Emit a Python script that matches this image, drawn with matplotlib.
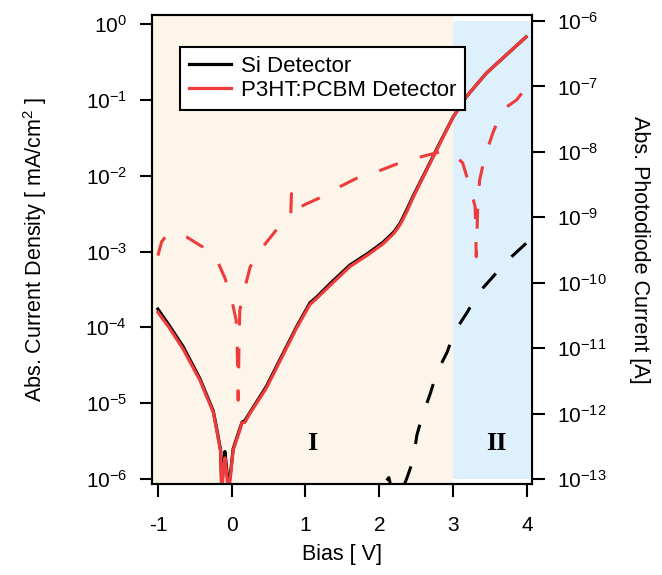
import math
import matplotlib
matplotlib.use("Agg")
from matplotlib import pyplot as plt
from matplotlib.ticker import FixedLocator, FuncFormatter, NullLocator
from matplotlib.lines import Line2D

plt.rcParams.update({"font.family": "Liberation Sans",
                     "mathtext.default": "regular",
                     "font.size": 15,
                     "text.color": "black",
                     "axes.linewidth": 1.5})

# Bias [V] and absolute current density [mA/cm^2] (left axis)
bias_dark = [-1.00, -0.85, -0.66, -0.43, -0.25, -0.205, -0.15, -0.135, -0.11, -0.092,
             -0.075, -0.045, -0.02, 0.02, 0.11, 0.14, 0.18, 0.25, 0.47, 0.70, 0.88,
             1.06, 1.15, 1.35, 1.60, 1.85, 2.05, 2.20, 2.28, 2.37, 2.46, 2.64, 2.82,
             3.00, 3.18, 3.45, 3.72, 3.99]
si_dark = [1.74e-4, 1.07e-4, 5.6e-5, 2.1e-5, 7.9e-6, 4.7e-6, 2.4e-6, 8e-7, 1.6e-6, 2.3e-6,
           1.6e-6, 8e-7, 1.1e-6, 2.5e-6, 4.6e-6, 5.6e-6, 5.9e-6, 7.6e-6, 1.66e-5, 4.6e-5, 1.02e-4,
           2.1e-4, 2.5e-4, 3.9e-4, 6.6e-4, 9.5e-4, 1.32e-3, 1.82e-3, 2.34e-3, 3.5e-3, 5.4e-3, 1.2e-2, 2.7e-2,
           5.9e-2, 0.11, 0.224, 0.39, 0.676]
p3ht_dark = [1.58e-4, 1.0e-4, 5.2e-5, 2.0e-5, 7.6e-6, 4.5e-6, 2.3e-6, 6.3e-7, 1.4e-6, 1.9e-6,
             1.4e-6, 6.3e-7, 1.0e-6, 2.4e-6, 4.4e-6, 5.5e-6, 5.6e-6, 7.4e-6, 1.58e-5, 4.4e-5, 9.8e-5,
             2.0e-4, 2.4e-4, 3.7e-4, 6.3e-4, 9.1e-4, 1.26e-3, 1.74e-3, 2.24e-3, 3.3e-3, 5.2e-3, 1.17e-2, 2.63e-2,
             5.9e-2, 0.11, 0.224, 0.39, 0.676]

# photodiode current [A] (right axis), dashed
bias_p3ht_pd = [-1.00, -0.95, -0.88, -0.75, -0.61, -0.39, -0.19, -0.09, 0.00, 0.06, 0.075,
                0.088, 0.10, 0.11, 0.18, 0.25, 0.41, 0.61, 0.80, 0.81, 0.845, 0.87, 1.00,
                1.20, 1.43, 1.74, 2.01, 2.28, 2.55, 2.82, 2.90, 3.02, 3.13, 3.23, 3.30,
                3.315, 3.335, 3.36, 3.43, 3.54, 3.67, 3.86, 4.00]
p3ht_pd = [2.6e-10, 4.2e-10, 5.4e-10, 5.5e-10, 5.0e-10, 3.5e-10, 2.1e-10, 1.17e-10, 5.5e-11, 2.7e-11, 1.0e-11,
           1.6e-12, 1.26e-11, 3.8e-11, 8.5e-11, 1.74e-10, 3.4e-10, 6.5e-10, 1.02e-9, 2.3e-9, 1.45e-9, 1.32e-9, 1.58e-9,
           2.0e-9, 2.8e-9, 4.2e-9, 5.2e-9, 6.8e-9, 8.3e-9, 1.0e-8, 1.02e-8, 8.9e-9, 6.8e-9, 2.9e-9, 1.45e-9,
           2.5e-10, 1.45e-9, 3.7e-9, 8.3e-9, 1.95e-8, 4.4e-8, 6.2e-8, 9.8e-8]

bias_si_pd = [2.10, 2.13, 2.20, 2.30, 2.37, 2.46, 2.51, 2.58, 2.69, 2.78, 2.92, 3.02,
              3.19, 3.34, 3.54, 3.74, 4.00]
si_pd = [9.5e-14, 1.05e-13, 5e-14, 6.3e-14, 1.0e-13, 1.95e-13, 4.7e-13, 8.9e-13, 2.0e-12, 4.2e-12, 8.7e-12, 1.78e-11,
         3.5e-11, 6.9e-11, 1.23e-10, 2.2e-10, 4.1e-10]

left_exps = [0, -1, -2, -3, -4, -5, -6]
right_exps = [-6, -7, -8, -9, -10, -11, -12, -13]
bias_ticks = [-1, 0, 1, 2, 3, 4]

red = "#EE3B3B"
beige = "#FDF5E9"
blue = "#DDF0FB"

fig = plt.figure(figsize=(6.62, 5.75), dpi=100)
ax = fig.add_axes([0.2296, 0.1583, 0.5740, 0.8156])
ax2 = ax.twinx()

ax.set_xlim(-1.08, 4.07)
ax.set_yscale("log")
ax.set_ylim(10 ** -6.066, 10 ** 0.119)
ax2.set_yscale("log")
ax2.set_ylim(10 ** -13.076, 10 ** -5.908)

# shaded regions I and II
ax.axvspan(-1.08, 3.0, color=beige, zorder=0, lw=0)
ax.fill_between([3.0, 4.04], 1.0e-6, 1.1, color=blue, zorder=0, lw=0)

ax.plot(bias_dark, si_dark, color="black", lw=2.3, zorder=3)
ax.plot(bias_dark, p3ht_dark, color=red, lw=2.3, zorder=4)

ax2.plot(bias_p3ht_pd, p3ht_pd, color=red, lw=2.2, dashes=(6.5, 7.5))
ax2.plot(bias_si_pd, si_pd, color="black", lw=2.2, dashes=(6.5, 7.5))

ax.text(1.09, 10 ** -5.53, "I", family="Liberation Serif", weight="bold",
        fontsize=19, ha="center", va="center")
ax.text(3.59, 10 ** -5.53, "II", family="Liberation Serif", weight="bold",
        fontsize=19, ha="center", va="center")

fmt = FuncFormatter(lambda v, p: "$10^{%d}$" % round(math.log10(v)))
ax.yaxis.set_major_locator(FixedLocator([10.0 ** e for e in left_exps]))
ax.yaxis.set_major_formatter(fmt)
ax.yaxis.set_minor_locator(NullLocator())
ax2.yaxis.set_major_locator(FixedLocator([10.0 ** e for e in right_exps]))
ax2.yaxis.set_major_formatter(fmt)
ax2.yaxis.set_minor_locator(NullLocator())
ax.set_xticks(bias_ticks)
ax.set_xticklabels([str(t) for t in bias_ticks])

ax.tick_params(axis="y", which="major", direction="out", length=9, width=1.5, pad=9, labelsize=15)
ax.tick_params(axis="x", which="major", direction="out", length=9, width=1.5, pad=14, labelsize=15)
ax2.tick_params(axis="y", which="major", direction="out", length=9, width=1.5, pad=9, labelsize=15)

ax.set_ylabel("Abs. Current Density [ mA/cm$^{2}$ ]", fontsize=15.5)
ax.yaxis.set_label_coords(-0.27, 0.5)
ax2.set_ylabel("Abs. Photodiode Current [A]", fontsize=15.5, rotation=270, va="center")
ax2.yaxis.set_label_coords(1.284, 0.5)
ax.set_xlabel("Bias [ V]", fontsize=15.5)
ax.xaxis.set_label_coords(0.5, -0.128)

handles = [Line2D([], [], color="black", lw=2.3), Line2D([], [], color=red, lw=2.3)]
leg = ax2.legend(handles, ["Si Detector", "P3HT:PCBM Detector"], loc="upper left",
                 bbox_to_anchor=(0.074, 0.932), borderaxespad=0, fancybox=False,
                 framealpha=1, edgecolor="black", fontsize=16, handlelength=1.9,
                 handletextpad=0.45, borderpad=0.4, labelspacing=0.15)
leg.get_frame().set_linewidth(1.5)

fig.savefig("out.png", dpi=100)
